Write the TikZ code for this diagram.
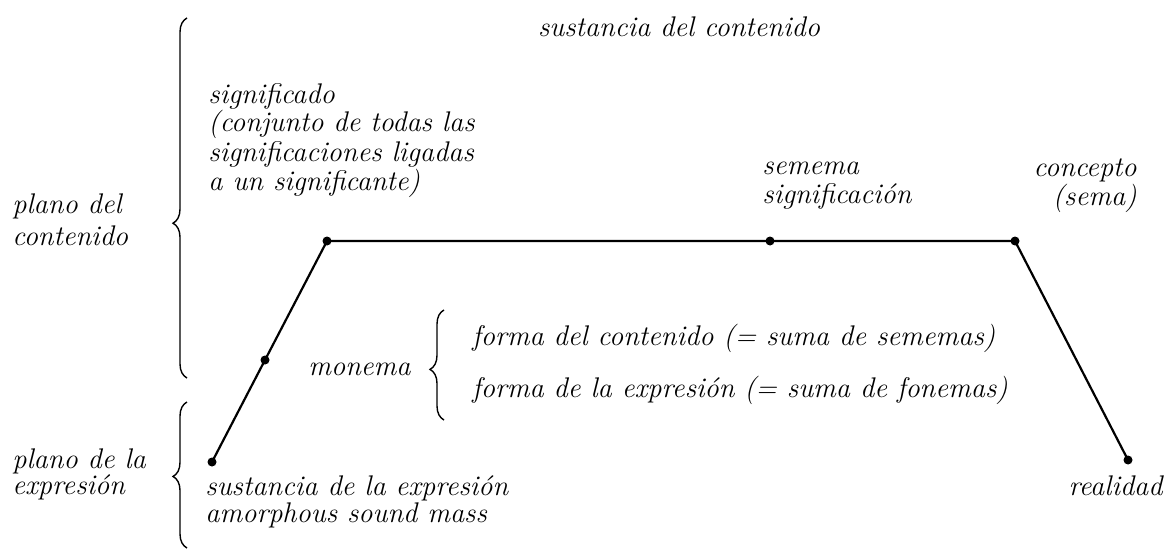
\documentclass[tikz,border=0pt]{standalone}
\usetikzlibrary{positioning}
\usetikzlibrary{decorations.pathreplacing}

\tikzset{
  txt/.style={font=\itshape\fontsize{14.2}{14.5}\selectfont, inner sep=0pt, anchor=base west, align=left},
  punto/.style={circle, fill, inner sep=0pt, minimum size=4.5pt},
  llave/.style={decorate, decoration={brace, amplitude=7pt, aspect=#1}, line width=0.7pt},
  linea/.style={line width=1.1pt},
}

\begin{document}
\begin{tikzpicture}[x=0.5pt,y=-0.5pt]
    \useasboundingbox (0,0) rectangle (1166,551);

    \node[txt, anchor=base] (sc) at (679,37) {sustancia del contenido};
    \node[txt] (sdo) at (208,190) {significado\\(conjunto de todas las\\significaciones ligadas\\a un significante)};
    \node[txt] (sem) at (762,203) {semema\\significación};
    \node[txt, align=right, anchor=base east] (con) at (1137,205) {concepto\\(sema)};
    \node[txt] (pc) at (12,245) {plano del\\[1.5pt]contenido};
    \node[txt] (pe) at (12,494) {plano de la\\[-1.5pt]expresión};
    \node[txt] (mon) at (308,375) {monema};
    \node[txt] (fc) at (472,345) {forma del contenido (= suma de sememas)};
    \node[txt] (fe) at (472,397) {forma de la expresión (= suma de fonemas)};
    \node[txt] (se) at (205,522) {sustancia de la expresión\\[-1pt]amorphous sound mass};
    \node[txt, anchor=base east] (re) at (1163,495) {realidad};

    \node[punto] (p1) at (212,462) {};
    \node[punto] (p2) at (265,360) {};
    \node[punto] (p3) at (327,241) {};
    \node[punto] (p4) at (770,241) {};
    \node[punto] (p5) at (1015,241) {};
    \node[punto] (p6) at (1128,460) {};

    \draw[linea] (p1.center) -- (p2.center) -- (p3.center) -- (p4.center) -- (p5.center) -- (p6.center);

    \draw[llave=0.43] (187,378) -- (187,18);
    \draw[llave=0.49] (187,548) -- (187,402);
    \draw[llave=0.46] (444,420) -- (444,310);

\end{tikzpicture}
\end{document}
